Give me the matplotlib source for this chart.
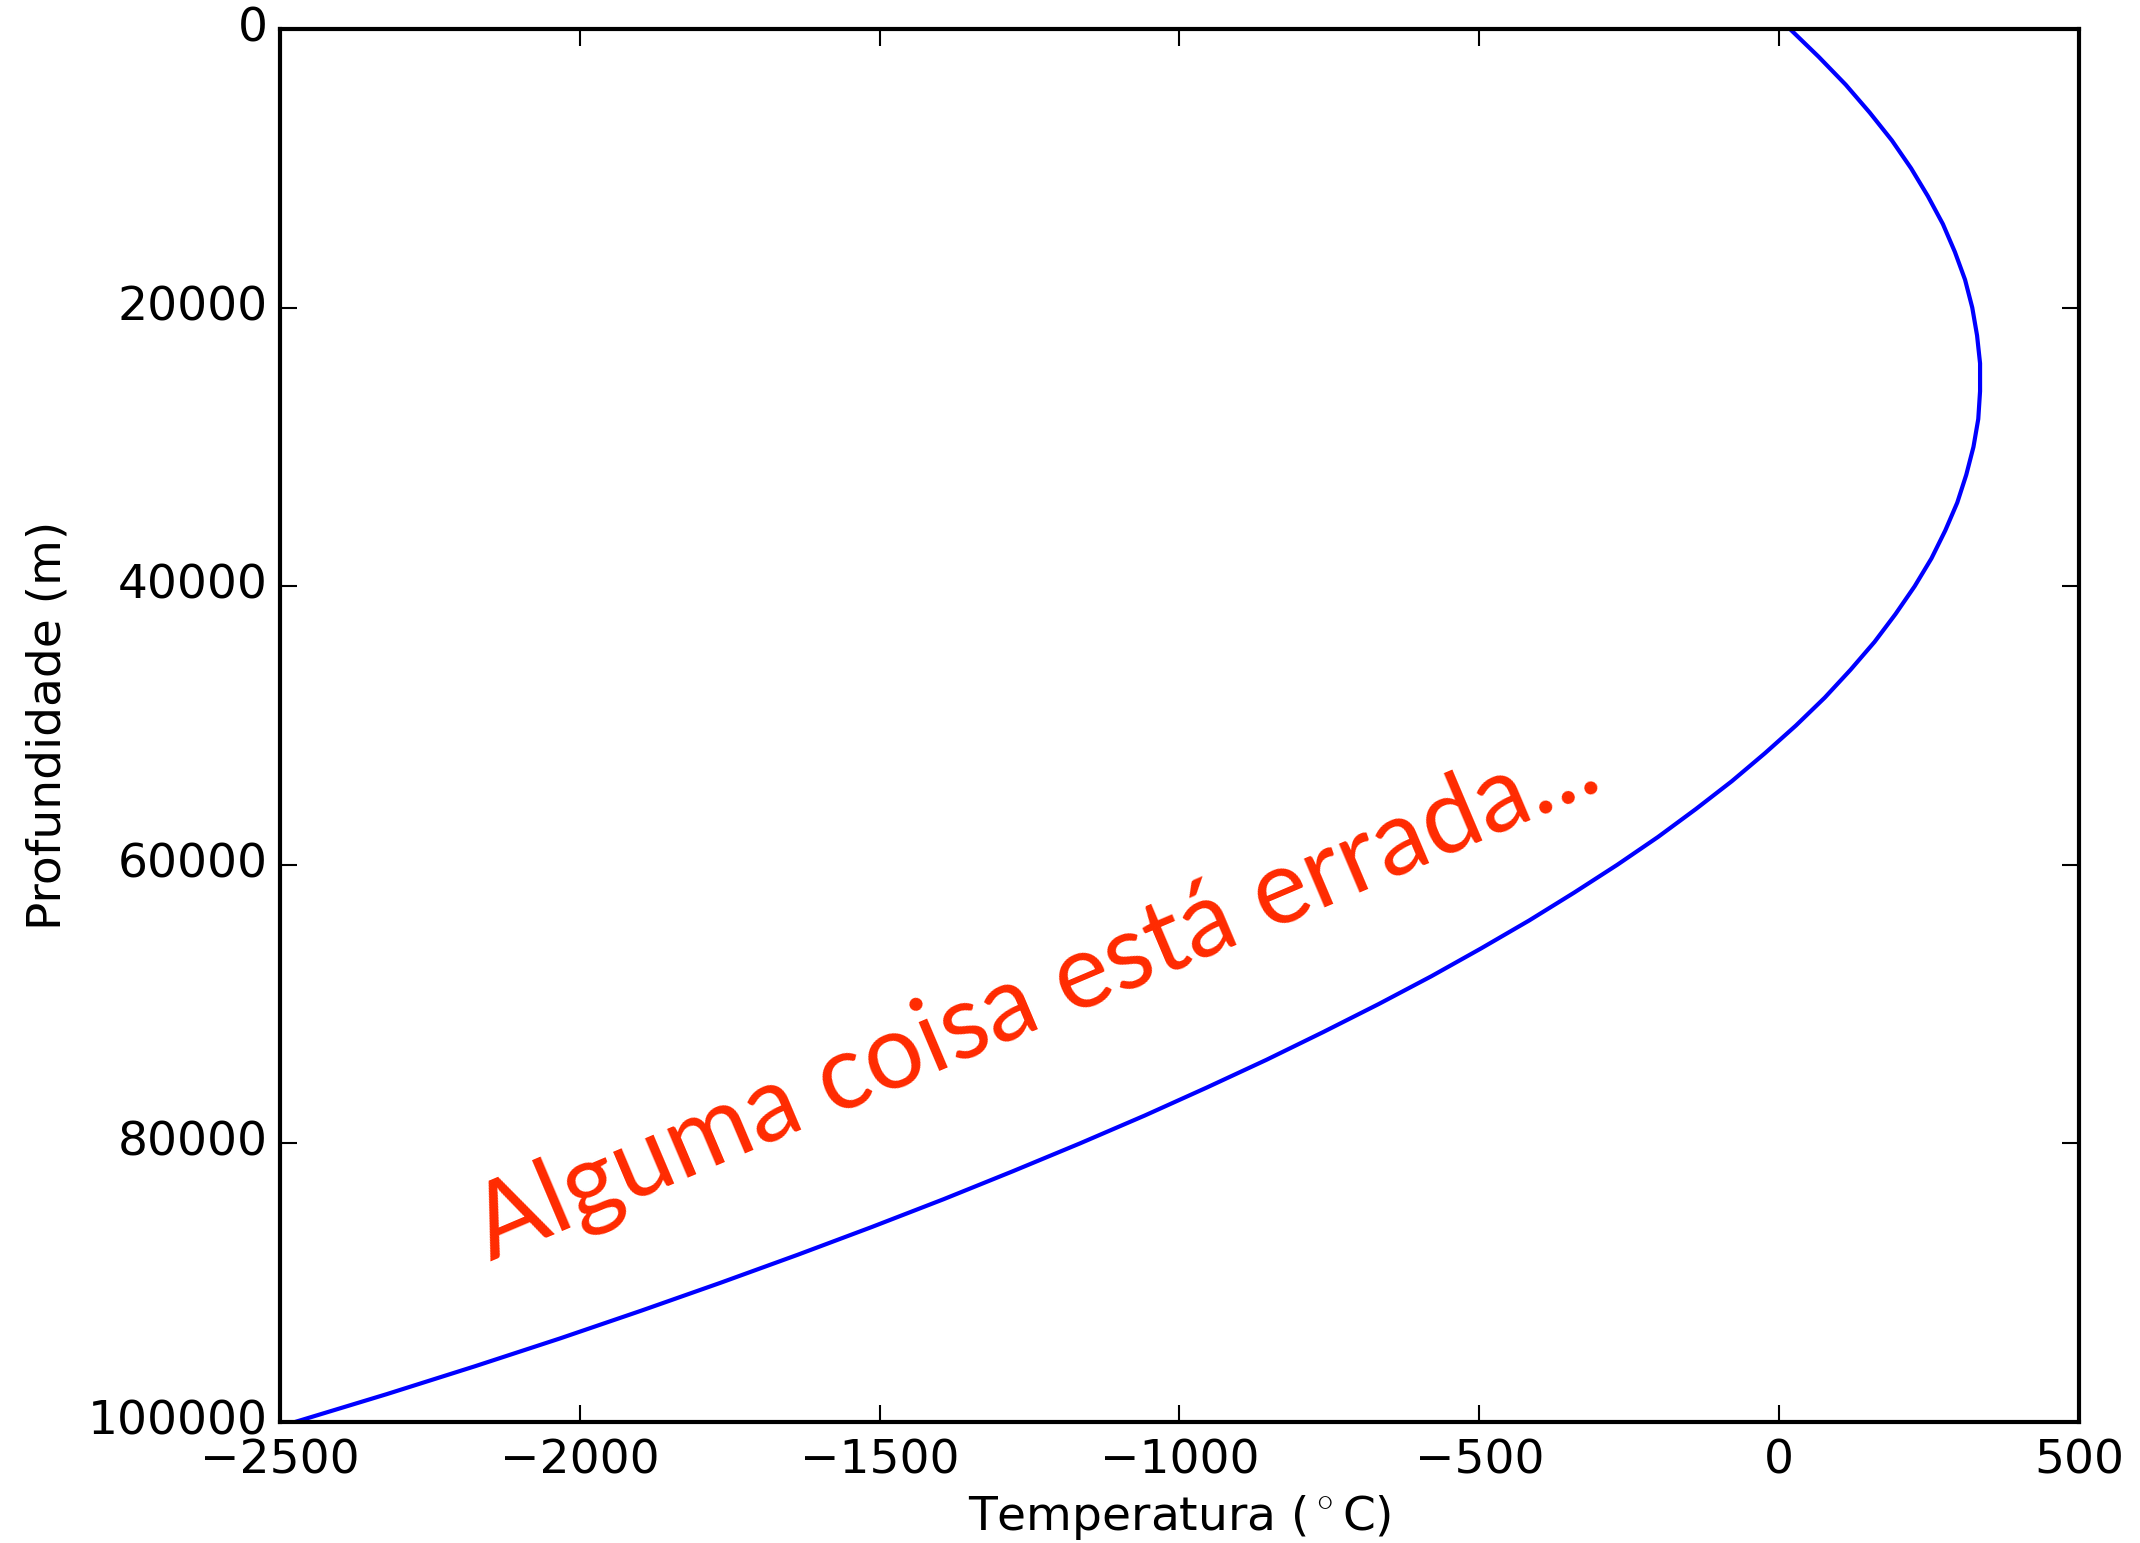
import matplotlib
matplotlib.use('Agg')
import matplotlib.pyplot as plt

# profundidade (m) e temperatura (C)
profundidade = [0, 2000, 4000, 6000, 8000, 10000, 12000, 14000, 16000, 18000,
                20000, 22000, 24000, 26000, 28000, 30000, 32000, 34000, 36000,
                38000, 40000, 42000, 44000, 46000, 48000, 50000, 52000, 54000,
                56000, 58000, 60000, 62000, 64000, 66000, 68000, 70000, 72000,
                74000, 76000, 78000, 80000, 82000, 84000, 86000, 88000, 90000,
                92000, 94000, 96000, 98000, 100000]
temperatura = [18, 66, 111, 151, 188, 220, 248, 273, 293, 310,
               322, 330, 335, 335, 332, 324, 312, 297, 277,
               254, 226, 194, 159, 119, 76, 28, -24, -79,
               -139, -202, -270, -342, -417, -497, -580, -668, -760,
               -855, -955, -1058, -1166, -1278, -1393, -1513, -1637, -1765,
               -1897, -2033, -2175, -2322, -2475]

xticks = [-2500, -2000, -1500, -1000, -500, 0, 500]
yticks = [0, 20000, 40000, 60000, 80000, 100000]

plt.style.use('classic')
plt.rcParams['font.size'] = 11.3
plt.rcParams['xtick.major.pad'] = 4
plt.rcParams['ytick.major.pad'] = 3

fig = plt.figure(figsize=(2140 / 300, 1543 / 300), dpi=300, facecolor='white')
ax = fig.add_axes([0.1308, 0.0784, 0.8407, 0.9028])

ax.plot(temperatura, profundidade, color='b', linewidth=1)
ax.set_xlim(-2500, 500)
ax.set_ylim(100000, 0)
ax.set_xticks(xticks)
ax.set_yticks(yticks)
ax.set_xlabel(r'Temperatura ($^\circ$C)', labelpad=2.3)
ax.set_ylabel('Profundidade (m)', labelpad=4)

ax.text(-1238, 69600, 'Alguma coisa está errada...', color='#ff2a00',
        fontsize=25, rotation=23, rotation_mode='anchor',
        ha='center', va='center', family='Lato')

fig.savefig('out.png', dpi=300, facecolor='white')
